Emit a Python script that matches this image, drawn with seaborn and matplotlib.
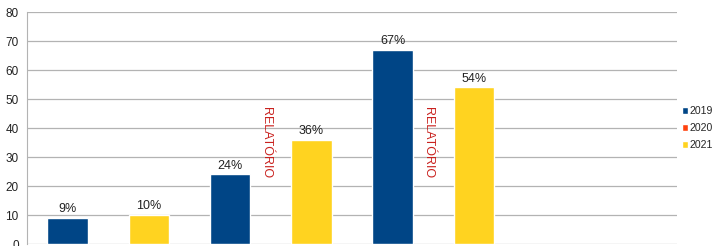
import pandas as pd
import numpy as np
import seaborn as sns
import matplotlib.pyplot as plt

# values (2020 has no data -> "RELATÓRIO" note)
groups = ["G1", "G2", "G3", "G4"]
years = ["2019", "2020", "2021"]
v2019 = [9, 24, 67, np.nan]
v2020 = [np.nan, np.nan, np.nan, np.nan]
v2021 = [10, 36, 54, np.nan]
note_groups = ["G2", "G3"]
note_text = "RELATÓRIO"
colors = ["#004586", "#ff420e", "#ffd320"]

df = pd.DataFrame({
    "grupo": groups * 3,
    "ano": [y for y in years for _ in groups],
    "valor": v2019 + v2020 + v2021,
})

sns.set_style("white")
plt.rcParams["font.family"] = ["Liberation Sans", "DejaVu Sans"]

fig = plt.figure(figsize=(7.16, 2.46), dpi=100)
ax = fig.add_axes([0.0377, 0.008, 0.9078, 0.943])

width = 0.75
sns.barplot(data=df, x="grupo", y="valor", hue="ano", order=groups, hue_order=years,
            palette=colors, width=width, saturation=1, ax=ax, legend=True)

# percent labels on top of bars
for c in ax.containers:
    labels = ["" if np.isnan(v) else f"{v:.0f}%" for v in c.datavalues]
    ax.bar_label(c, labels=labels, padding=2, fontsize=9, color="#222222")

# red vertical note in the empty 2020 slot
for g in note_groups:
    xpos = groups.index(g) - 0.03
    ax.text(xpos, 35, note_text, rotation=270, color="#c9211e", fontsize=9,
            ha="center", va="center")

ax.set_ylim(0, 80)
ax.set_xlim(-0.5, len(groups) - 0.5)
ax.set_yticks(range(0, 81, 10))
ax.yaxis.grid(True, color="#b3b3b3", linewidth=0.9)
ax.set_axisbelow(True)
ax.set_xticks([])
ax.set_xlabel("")
ax.set_ylabel("")
ax.tick_params(axis="y", length=4, color="#b3b3b3", labelsize=8.5, pad=2, labelcolor="#222222")
for s in ["top", "right", "bottom"]:
    ax.spines[s].set_visible(False)
ax.spines["left"].set_color("#b3b3b3")

ax.legend(loc="center left", bbox_to_anchor=(1.007, 0.5), frameon=False, fontsize=7.6,
          handlelength=0.6, handleheight=0.6, handletextpad=0.2, labelspacing=0.65,
          borderpad=0, borderaxespad=0)

fig.savefig("out.png", dpi=100)
